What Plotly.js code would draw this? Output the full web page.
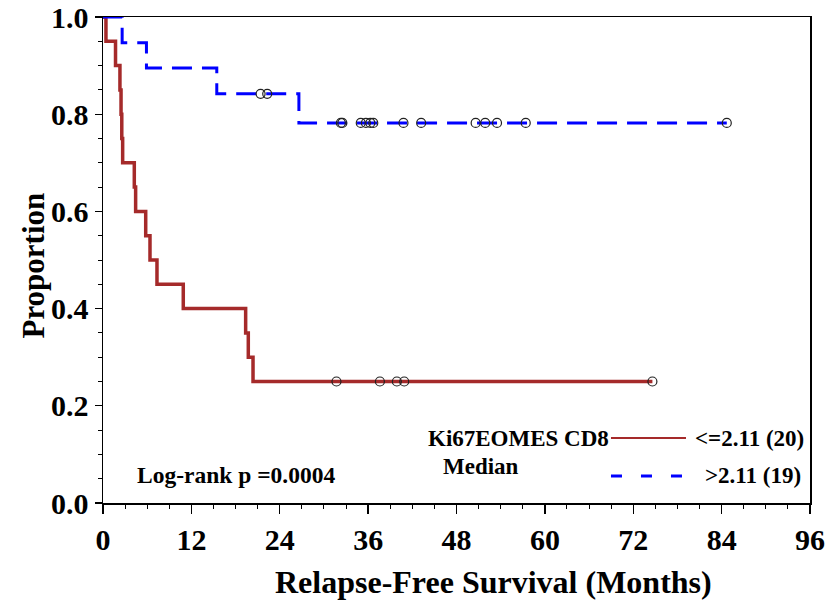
<!DOCTYPE html>
<html>
<head>
<meta charset="utf-8">
<script src="https://cdn.plot.ly/plotly-3.0.1.min.js"></script>
<style>
  html, body { margin: 0; padding: 0; background: #ffffff; }
  #chart { width: 838px; height: 600px; }
</style>
</head>
<body>
<div id="chart"></div>
<script>
// Kaplan–Meier relapse-free survival, split at the Ki67EOMES CD8 median

const groupTitle = 'Ki67EOMES CD8';
const groupSubtitle = 'Median';
const lowName = '<=2.11 (20)';
const highName = '>2.11 (19)';
const pValueText = 'Log-rank p =0.0004';
const xTitle = 'Relapse-Free Survival (Months)';
const yTitle = 'Proportion';

// Low group: event times (months) and survival proportion after each step
const lowTimes = [0, 0.4, 1.7, 2.3, 2.45, 2.55, 2.67, 4.25, 4.43, 5.8, 6.38, 7.33, 10.9, 19.37, 19.73, 20.37];
const lowSurv  = [1.0, 0.95, 0.90, 0.85, 0.80, 0.75, 0.70, 0.65, 0.60, 0.55, 0.50, 0.45, 0.40, 0.35, 0.30, 0.25];
const lowCensored = [31.7, 37.6, 39.9, 40.9, 74.6];
const lowFollowUpEnd = 74.6;

// High group
const highTimes = [0, 2.6, 5.9, 15.45, 26.6];
const highSurv  = [1.0, 0.947, 0.895, 0.842, 0.782];
const highCensored = [21.4, 22.3, 32.3, 32.5, 35.0, 35.7, 36.3, 36.7, 40.8, 43.2, 50.6, 51.9, 53.5, 57.4, 84.7];
const highFollowUpEnd = 84.7;

// Axis ticks
const xTickVals = [0, 12, 24, 36, 48, 60, 72, 84, 96];
const yTickVals = [0, 0.2, 0.4, 0.6, 0.8, 1.0];
const yTickText = ['0.0', '0.2', '0.4', '0.6', '0.8', '1.0'];

const lowColor = '#a52a2a';
const highColor = '#0000ff';
const serif = 'Liberation Serif, Times New Roman, serif';

// survival value of a step function at time t
function survAt(times, surv, t) {
  let v = surv[0];
  for (let i = 0; i < times.length; i++) {
    if (times[i] <= t) v = surv[i];
  }
  return v;
}

function stepTrace(times, surv, end, color, width, dash, name) {
  return {
    type: 'scatter', mode: 'lines', name: name,
    x: times.concat([end]),
    y: surv.concat([surv[surv.length - 1]]),
    line: { shape: 'hv', color: color, width: width, dash: dash },
    hoverinfo: 'x+y', showlegend: false
  };
}

function censorTrace(times, surv, cens, name) {
  return {
    type: 'scatter', mode: 'markers', name: name + ' censored',
    x: cens,
    y: cens.map(t => survAt(times, surv, t)),
    marker: { symbol: 'circle-open', size: 9, color: '#222222', line: { width: 1.2 } },
    cliponaxis: false, showlegend: false
  };
}

const traces = [
  stepTrace(lowTimes, lowSurv, lowFollowUpEnd, lowColor, 3.5, 'solid', lowName),
  stepTrace(highTimes, highSurv, highFollowUpEnd, highColor, 3, '20px,10px', highName),
  censorTrace(lowTimes, lowSurv, lowCensored, lowName),
  censorTrace(highTimes, highSurv, highCensored, highName)
];

const boldFont = (size) => ({ family: serif, size: size, color: '#000000', weight: 'bold' });

const layout = {
  width: 838, height: 600,
  margin: { l: 103, r: 28, t: 17, b: 97 },
  paper_bgcolor: '#ffffff', plot_bgcolor: '#ffffff',
  showlegend: false,
  font: { family: serif, color: '#000000' },
  xaxis: {
    range: [0, 96], tickvals: xTickVals, ticks: 'outside', ticklen: 9, tickwidth: 1.3,
    tickcolor: '#000000', tickfont: boldFont(30),
    showline: true, linecolor: '#000000', linewidth: 1.5, mirror: true,
    showgrid: false, zeroline: false,
    minor: { dtick: 3, ticks: 'outside', ticklen: 4, tickwidth: 1, tickcolor: '#000000' }
  },
  yaxis: {
    range: [0, 1], tickvals: yTickVals, ticktext: yTickText, ticks: 'outside', ticklen: 7,
    tickwidth: 1.3, tickcolor: '#000000', tickfont: boldFont(30),
    showline: true, linecolor: '#000000', linewidth: 1.5, mirror: true,
    showgrid: false, zeroline: false,
    minor: { dtick: 0.05, ticks: 'outside', ticklen: 4, tickwidth: 1, tickcolor: '#000000' }
  },
  shapes: [
    { type: 'line', xref: 'paper', yref: 'paper', x0: 0.7185, x1: 0.8246, y0: 0.1337, y1: 0.1337,
      line: { color: lowColor, width: 2 } },
    { type: 'line', xref: 'paper', yref: 'paper', x0: 0.7185, x1: 0.8246, y0: 0.0556, y1: 0.0556,
      line: { color: highColor, width: 3, dash: '11px,19px' } }
  ],
  annotations: [
    { xref: 'paper', yref: 'paper', x: 0.7185, y: 0.1337, xanchor: 'right', yanchor: 'middle',
      text: groupTitle, showarrow: false, font: boldFont(23) },
    { xref: 'paper', yref: 'paper', x: 0.5346, y: 0.0741, xanchor: 'center', yanchor: 'middle',
      text: groupSubtitle, showarrow: false, font: boldFont(23) },
    { xref: 'paper', yref: 'paper', x: 0.8345, y: 0.1337, xanchor: 'left', yanchor: 'middle',
      text: lowName.replace('<', '&lt;'), showarrow: false, font: boldFont(23) },
    { xref: 'paper', yref: 'paper', x: 0.8487, y: 0.0556, xanchor: 'left', yanchor: 'middle',
      text: highName.replace('>', '&gt;'), showarrow: false, font: boldFont(23) },
    { xref: 'paper', yref: 'paper', x: 0.0453, y: 0.0576, xanchor: 'left', yanchor: 'middle',
      text: pValueText, showarrow: false, font: boldFont(23.5) },
    { xref: 'paper', yref: 'paper', x: 0.5523, y: -0.163, xanchor: 'center', yanchor: 'middle',
      text: xTitle, showarrow: false, font: boldFont(32) },
    { xref: 'paper', yref: 'paper', x: -0.098, y: 0.488, xanchor: 'center', yanchor: 'middle',
      text: yTitle, showarrow: false, textangle: -90, font: boldFont(31) }
  ]
};

Plotly.newPlot('chart', traces, layout, { displayModeBar: false, staticPlot: true });
</script>
</body>
</html>
